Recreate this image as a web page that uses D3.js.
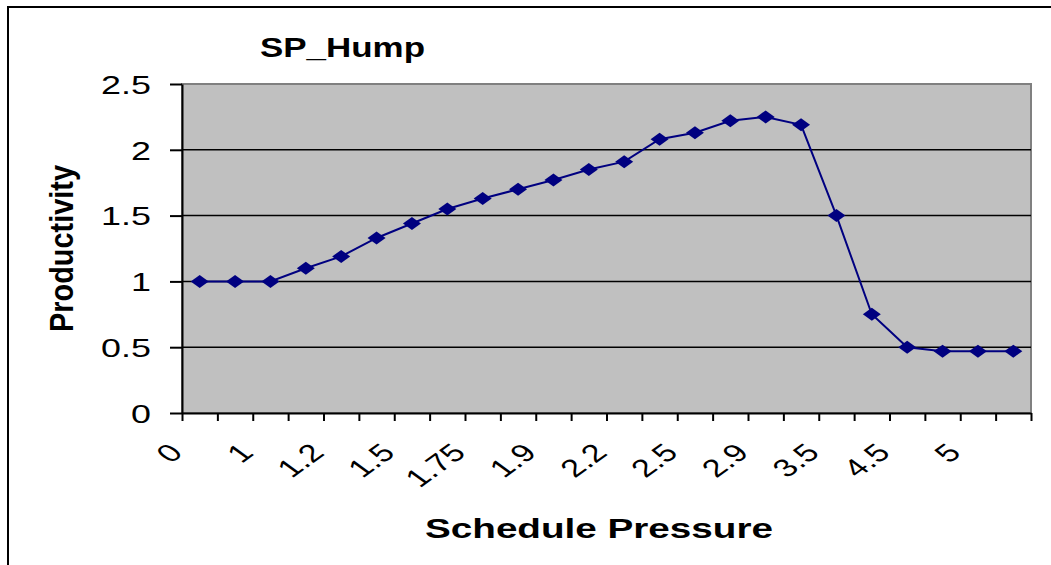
<!DOCTYPE html>
<html>
<head>
<meta charset="utf-8">
<script src="https://cdn.jsdelivr.net/npm/d3@7"></script>
<style>
  html, body { margin: 0; padding: 0; background: #fff; }
  svg { display: block; font-family: "Liberation Sans", Arial, sans-serif; }
</style>
</head>
<body>
<svg id="chart" width="1051" height="565"></svg>
<script>
// ---- data ----
const chartTitle = "SP_Hump";
const xTitle = "Schedule Pressure";
const yTitle = "Productivity";
// 24 categories; only every second label is printed on the axis
const categories = ["0","0.5","1","1.1","1.2","1.3","1.5","1.6","1.75","1.8","1.9","2",
                    "2.2","2.3","2.5","2.7","2.9","3","3.5","4","4.5","4.75","5","6"];
const productivity = [1.00,1.00,1.00,1.10,1.19,1.33,1.44,1.55,1.63,1.70,1.77,1.85,
                      1.91,2.08,2.13,2.22,2.25,2.19,1.50,0.75,0.50,0.47,0.47,0.47];
const yTicks = [0, 0.5, 1, 1.5, 2, 2.5];
const labelEvery = 2;

// ---- layout ----
const svg = d3.select("#chart");
const L = 182, R = 1031, T = 84, B = 413;

const x = d3.scaleBand().domain(d3.range(categories.length)).range([L, R]).paddingInner(0).paddingOuter(0);
const xEdge = d3.scaleLinear().domain([0, categories.length]).range([L, R]);
const y = d3.scaleLinear().domain([0, 2.5]).range([B, T]);

// outer chart border (cut off at right/bottom)
svg.append("rect").attr("x", 8).attr("y", 7).attr("width", 1100).attr("height", 700)
  .attr("fill", "none").attr("stroke", "#000").attr("stroke-width", 2);

// plot area
svg.append("rect").attr("x", L).attr("y", T).attr("width", R - L).attr("height", B - T)
  .attr("fill", "#C0C0C0").attr("stroke", "#808080").attr("stroke-width", 2);

// gridlines
svg.append("g").selectAll("line").data(yTicks.filter(d => d > 0 && d < 2.5)).join("line")
  .attr("x1", L).attr("x2", R).attr("y1", d => y(d)).attr("y2", d => y(d))
  .attr("stroke", "#000").attr("stroke-width", 1.5);

// y axis
const yAxis = svg.append("g").attr("transform", `translate(${L},0)`)
  .call(d3.axisLeft(y).tickValues(yTicks).tickSize(12).tickSizeOuter(0).tickFormat(d3.format("")));
yAxis.select(".domain").attr("stroke", "#000").attr("stroke-width", 2);
yAxis.selectAll(".tick line").attr("stroke", "#000").attr("stroke-width", 2);
yAxis.selectAll(".tick text")
  .attr("x", -31 / 1.38).attr("dy", "0.36em")
  .attr("transform", "scale(1.38,1)")
  .attr("font-size", 26).attr("fill", "#000")
  .attr("font-family", "'Liberation Sans', Arial, sans-serif");

// x axis (ticks between categories)
const xAxis = svg.append("g").attr("transform", `translate(0,${B})`)
  .call(d3.axisBottom(xEdge).tickValues(d3.range(categories.length + 1)).tickSize(8).tickSizeOuter(0).tickFormat(""));
xAxis.select(".domain").attr("stroke", "#000").attr("stroke-width", 2);
xAxis.selectAll(".tick line").attr("stroke", "#000").attr("stroke-width", 2);

// x tick labels (every second category, rotated)
svg.append("g").selectAll("text")
  .data(categories.map((c, i) => ({c, i})).filter(d => d.i % labelEvery === 0))
  .join("text")
  .attr("transform", d => `translate(${x(d.i) + x.bandwidth() / 2 - 24},448) scale(1.38,1) rotate(-45)`)
  .attr("text-anchor", "end").attr("dy", "0.35em")
  .attr("font-size", 25).attr("fill", "#000")
  .text(d => d.c);

// line + markers
const cx = i => x(i) + x.bandwidth() / 2;
svg.append("path").datum(productivity)
  .attr("d", d3.line().x((d, i) => cx(i)).y(d => y(d)))
  .attr("fill", "none").attr("stroke", "#000080").attr("stroke-width", 2);
svg.append("g").selectAll("path").data(productivity).join("path")
  .attr("transform", (d, i) => `translate(${cx(i)},${y(d)})`)
  .attr("d", "M0,-6.5L9,0L0,6.5L-9,0Z")
  .attr("fill", "#000080");

// titles
svg.append("text").attr("x", 260).attr("y", 57)
  .attr("font-size", 27).attr("font-weight", "bold")
  .attr("textLength", 165).attr("lengthAdjust", "spacingAndGlyphs")
  .text(chartTitle);
svg.append("text").attr("x", 425).attr("y", 538)
  .attr("font-size", 27).attr("font-weight", "bold")
  .attr("textLength", 348).attr("lengthAdjust", "spacingAndGlyphs")
  .text(xTitle);
svg.append("text").attr("transform", "translate(73,332) rotate(-90)")
  .attr("font-size", 34).attr("font-weight", "bold")
  .attr("textLength", 167).attr("lengthAdjust", "spacingAndGlyphs")
  .text(yTitle);
</script>
</body>
</html>
